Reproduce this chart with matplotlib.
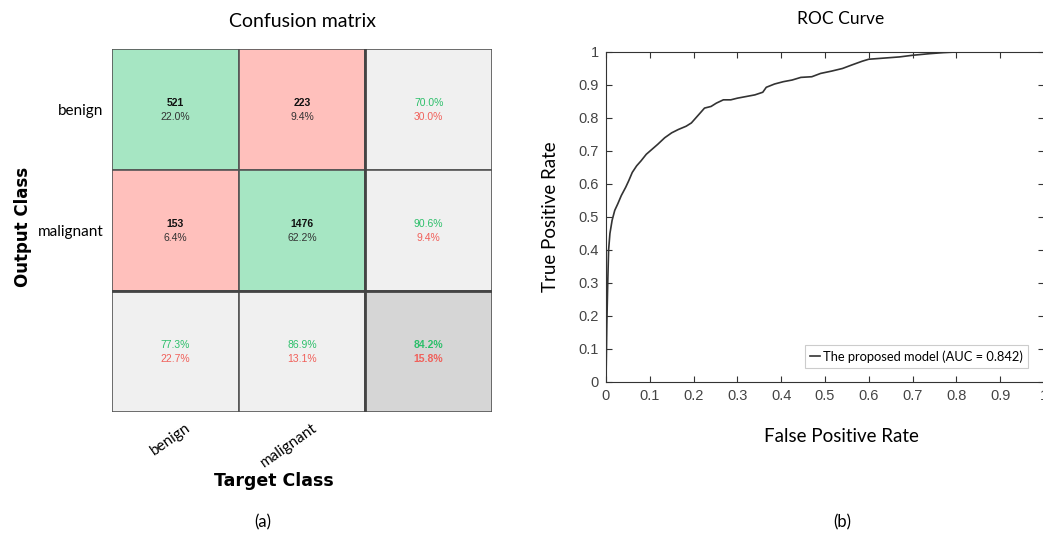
import numpy as np
import matplotlib
matplotlib.use('Agg')
import matplotlib.pyplot as plt
from matplotlib.patches import Rectangle

# Dados da matriz de confusao
classes = ['benign', 'malignant']
contagens = np.array([[521, 223],
                      [153, 1476]])

# Pontos da curva ROC
fpr = [0.0, 0.002, 0.004, 0.006, 0.009, 0.014, 0.020, 0.027, 0.035, 0.045, 0.052,
       0.060, 0.070, 0.080, 0.092, 0.105, 0.118, 0.134, 0.150, 0.165, 0.183,
       0.195, 0.205, 0.215, 0.225, 0.240, 0.252, 0.268, 0.285, 0.300, 0.320,
       0.340, 0.358, 0.366, 0.385, 0.405, 0.425, 0.445, 0.470, 0.490, 0.515,
       0.540, 0.560, 0.585, 0.600, 0.630, 0.670, 0.700, 0.740, 0.770, 0.800, 1.0]
tpr = [0.0, 0.18, 0.30, 0.40, 0.45, 0.49, 0.52, 0.54, 0.565, 0.59, 0.61,
       0.635, 0.655, 0.67, 0.69, 0.705, 0.72, 0.74, 0.755, 0.765, 0.775,
       0.785, 0.80, 0.815, 0.83, 0.835, 0.845, 0.855, 0.855, 0.86, 0.865,
       0.87, 0.878, 0.893, 0.903, 0.91, 0.915, 0.923, 0.925, 0.935, 0.942,
       0.95, 0.96, 0.972, 0.978, 0.981, 0.985, 0.99, 0.995, 0.998, 1.0, 1.0]
auc = 0.842

verde = '#a6e6c3'
vermelho = '#ffc0bc'
cinza = '#f0f0f0'
cinza_escuro = '#d6d6d6'
txt_verde = '#2cbf6a'
txt_vermelho = '#f0605a'

fig = plt.figure(figsize=(10.43, 5.46), dpi=100)

# ---------------- (a) matriz de confusao ----------------
ax1 = fig.add_axes([0.1074, 0.2454, 0.3643, 0.6648])
n = len(classes)
total = contagens.sum()
for i in range(n + 1):
    for j in range(n + 1):
        if i < n and j < n:
            cor = verde if i == j else vermelho
        elif i == n and j == n:
            cor = cinza_escuro
        else:
            cor = cinza
        ax1.add_patch(Rectangle((j, i), 1, 1, facecolor=cor, edgecolor='#555555', lw=1.2))
        if i < n and j < n:
            ax1.text(j + 0.5, i + 0.45, str(contagens[i, j]), ha='center', va='center',
                     fontsize=7.5, fontweight='bold', family='Liberation Sans', color='#111111')
            ax1.text(j + 0.5, i + 0.56, f'{100 * contagens[i, j] / total:.1f}%', ha='center',
                     va='center', fontsize=7.5, family='Liberation Sans', color='#333333')
        else:
            if i < n and j == n:
                acerto = contagens[i, i] / contagens[i, :].sum()
            elif j < n and i == n:
                acerto = contagens[j, j] / contagens[:, j].sum()
            else:
                acerto = np.trace(contagens) / total
            peso = 'bold' if (i == n and j == n) else 'normal'
            ax1.text(j + 0.5, i + 0.45, f'{100 * acerto:.1f}%', ha='center', va='center',
                     fontsize=7.5, fontweight=peso, family='Liberation Sans', color=txt_verde)
            ax1.text(j + 0.5, i + 0.56, f'{100 * (1 - acerto):.1f}%', ha='center', va='center',
                     fontsize=7.5, fontweight=peso, family='Liberation Sans', color=txt_vermelho)
# linhas mais grossas separando o resumo
ax1.plot([0, n + 1], [n, n], color='#444444', lw=2)
ax1.plot([n, n], [0, n + 1], color='#444444', lw=2)
ax1.set_xlim(0, n + 1)
ax1.set_ylim(n + 1, 0)
# rotulos inclinados ficam um pouco a direita do centro da coluna
ax1.set_xticks(np.arange(n) + 0.58)
ax1.set_xticklabels(classes, rotation=35, ha='right', rotation_mode='anchor',
                    fontsize=11, family='Lato')
ax1.set_yticks(np.arange(n) + 0.5)
ax1.set_yticklabels(classes, fontsize=11, family='Lato')
ax1.tick_params(length=0, pad=6)
for s in ax1.spines.values():
    s.set_visible(False)
ax1.set_title('Confusion matrix', fontsize=14, family='Lato', pad=16)
ax1.set_ylabel('Output Class', fontsize=12, fontweight='bold', family='DejaVu Sans')
ax1.yaxis.set_label_coords(-0.21, 0.51)
ax1.set_xlabel('Target Class', fontsize=12.5, fontweight='bold', family='DejaVu Sans')
ax1.xaxis.set_label_coords(0.426, -0.165)
fig.text(0.2522, 0.044, '(a)', ha='center', va='center', fontsize=12, family='Lato')

# ---------------- (b) curva ROC ----------------
ax2 = fig.add_axes([0.5810, 0.3004, 0.4199, 0.6044])
ax2.plot(fpr, tpr, color='#333333', lw=1.2, label=f'The proposed model (AUC = {auc})')
ax2.set_xlim(0, 1)
ax2.set_ylim(0, 1)
ax2.set_xticks(np.arange(0, 1.01, 0.1))
ax2.set_yticks(np.arange(0, 1.01, 0.1))
ax2.set_xticklabels(['0'] + [f'{v:.1f}' for v in np.arange(0.1, 0.95, 0.1)] + ['1'])
ax2.set_yticklabels(['0'] + [f'{v:.1f}' for v in np.arange(0.1, 0.95, 0.1)] + ['1'])
ax2.tick_params(direction='in', length=4, top=True, right=True, labelsize=10.5,
                labelcolor='#444444', color='#333333', pad=5)
for lab in ax2.get_xticklabels() + ax2.get_yticklabels():
    lab.set_family('Liberation Sans')
for s in ax2.spines.values():
    s.set_color('#333333')
ax2.set_title('ROC Curve', fontsize=12.5, family='Lato', pad=20, x=0.5365)
ax2.set_xlabel('False Positive Rate', fontsize=13.5, family='Lato')
ax2.xaxis.set_label_coords(0.5365, -0.14)
ax2.set_ylabel('True Positive Rate', fontsize=13.5, family='Lato', labelpad=14)
leg = ax2.legend(loc='lower right', bbox_to_anchor=(0.9635, 0.042), borderaxespad=0,
                 prop={'family': 'Lato', 'size': 9.3}, handlelength=0.8, handletextpad=0.2,
                 fancybox=False, borderpad=0.4, framealpha=1)
leg.get_frame().set_edgecolor('#cccccc')
leg.get_frame().set_linewidth(0.8)
fig.text(0.8073, 0.044, '(b)', ha='center', va='center', fontsize=12, family='Lato')

plt.savefig('out.png', dpi=100)
